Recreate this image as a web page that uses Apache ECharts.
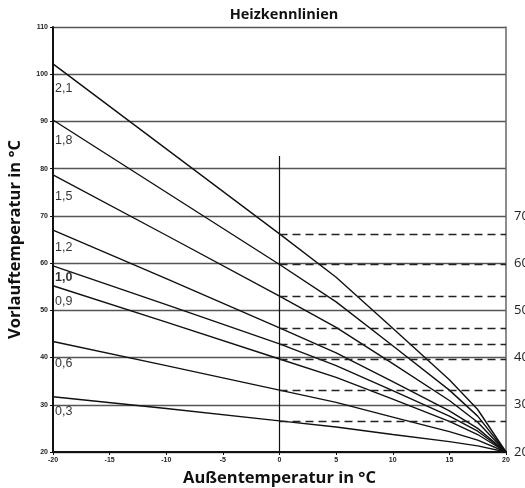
<!DOCTYPE html>
<html>
<head>
<meta charset="utf-8">
<script src="https://cdn.jsdelivr.net/npm/echarts@6/dist/echarts.min.js"></script>
<style>
  html, body { margin: 0; padding: 0; background: #fff; }
  #chart { width: 525px; height: 488px; }
</style>
</head>
<body>
<div id="chart"></div>
<script>
// Außentemperatur-Stützstellen
const outsideTemps = [-20, -10, 0, 5, 10, 15, 17.5, 20]

// Heizkennlinien (Steilheit -> Vorlauftemperatur)
const curveNames = ['2,1', '1,8', '1,5', '1,2', '1,0', '0,9', '0,6', '0,3']
const curve21 = [102.2, 84.2, 66.2, 57.0, 46.2, 35.3, 29.0, 20]
const curve18 = [90.3, 75.0, 59.7, 51.8, 42.5, 33.1, 27.6, 20]
const curve15 = [78.7, 65.9, 53.0, 46.4, 38.7, 30.9, 26.3, 20]
const curve12 = [67.0, 56.7, 46.3, 41.0, 34.9, 28.7, 25.0, 20]
const curve10 = [59.4, 51.2, 42.9, 38.3, 33.0, 27.6, 24.4, 20]
const curve09 = [55.2, 47.5, 39.7, 35.8, 31.2, 26.5, 23.7, 20]
const curve06 = [43.4, 38.3, 33.1, 30.5, 27.4, 24.3, 22.5, 20]
const curve03 = [31.7, 29.2, 26.6, 25.3, 23.7, 22.2, 21.3, 20]
const curves = [curve21, curve18, curve15, curve12, curve10, curve09, curve06, curve03]

// Lage der Beschriftungen am linken Rand (Vorlauftemperatur)
const labelValues = [97, 86, 74, 63.2, 56.9, 51.8, 38.8, 28.5]

// senkrechte Linie bei 0 °C
const verticalLine = [20, 82.7]

// Achsen
const xTicks = [-20, 20, 5]
const yTicks = [20, 110, 10]
const rightLabelMax = 70

const chart = echarts.init(document.getElementById('chart'))

const curveSeries = curves.map((vals, i) => ({
  name: curveNames[i],
  type: 'line',
  symbol: 'none',
  silent: true,
  lineStyle: { color: '#111', width: 1.4 },
  data: outsideTemps.map((x, j) => [x, vals[j]])
}))

const dashedLines = curves.map(vals => [
  { coord: [0, vals[2]] },
  { coord: [xTicks[1], vals[2]] }
])

const option = {
  animation: false,
  title: {
    text: 'Heizkennlinien',
    left: 279,
    textAlign: 'center',
    top: 2,
    textStyle: { fontFamily: 'Open Sans', fontSize: 14.5, fontWeight: 'bold', color: '#111' }
  },
  grid: { left: 53, right: 19, top: 27, bottom: 36, outerBoundsMode: 'none' },
  xAxis: {
    type: 'value',
    min: xTicks[0],
    max: xTicks[1],
    interval: xTicks[2],
    name: 'Außentemperatur in °C',
    nameLocation: 'middle',
    nameGap: 18,
    nameTextStyle: { fontFamily: 'Open Sans', fontSize: 16.5, fontWeight: 'bold', color: '#111' },
    splitLine: { show: false },
    axisLine: { onZero: false, lineStyle: { color: '#111', width: 2 } },
    axisTick: { length: 3, lineStyle: { color: '#111' } },
    axisLabel: { fontSize: 7, fontWeight: 'bold', color: '#222', margin: 5, fontFamily: 'Liberation Sans' }
  },
  yAxis: [
    {
      type: 'value',
      min: yTicks[0],
      max: yTicks[1],
      interval: yTicks[2],
      name: 'Vorlauftemperatur in °C',
      nameLocation: 'middle',
      nameGap: 29,
      nameTextStyle: { fontFamily: 'Open Sans', fontSize: 16.5, fontWeight: 'bold', color: '#111' },
      axisLine: { show: true, onZero: false, lineStyle: { color: '#111', width: 2 } },
      axisTick: { show: true, length: 3, lineStyle: { color: '#111' } },
      splitLine: { lineStyle: { color: '#555', width: 1.4 } },
      axisLabel: { fontSize: 7, fontWeight: 'bold', color: '#222', margin: 5, fontFamily: 'Liberation Sans' }
    },
    {
      type: 'value',
      position: 'right',
      min: yTicks[0],
      max: yTicks[1],
      interval: yTicks[2],
      axisLine: { show: true, onZero: false, lineStyle: { color: '#666', width: 1.5 } },
      axisTick: { show: false },
      splitLine: { show: false },
      axisLabel: {
        fontSize: 13,
        color: '#222',
        margin: 8,
        fontFamily: 'Open Sans',
        formatter: v => (v <= rightLabelMax ? String(v) : '')
      }
    }
  ],
  series: [
    ...curveSeries,
    {
      type: 'scatter',
      symbolSize: 0,
      silent: true,
      data: labelValues.map((v, i) => ({
        value: [xTicks[0], v],
        label: {
          show: true,
          position: 'right',
          distance: 2,
          formatter: curveNames[i],
          fontSize: 12.5,
          fontFamily: 'Liberation Sans',
          fontWeight: curveNames[i] === '1,0' ? 'bold' : 'normal',
          color: '#000'
        }
      }))
    },
    {
      type: 'line',
      data: [],
      markLine: {
        silent: true,
        symbol: 'none',
        label: { show: false },
        lineStyle: { color: '#222', type: [8, 5], width: 1.3 },
        data: dashedLines
      }
    },
    {
      type: 'line',
      data: [],
      markLine: {
        silent: true,
        symbol: 'none',
        label: { show: false },
        lineStyle: { color: '#111', type: 'solid', width: 1.2 },
        data: [[{ coord: [0, verticalLine[0]] }, { coord: [0, verticalLine[1]] }]]
      }
    }
  ]
}

chart.setOption(option)
</script>
</body>
</html>
